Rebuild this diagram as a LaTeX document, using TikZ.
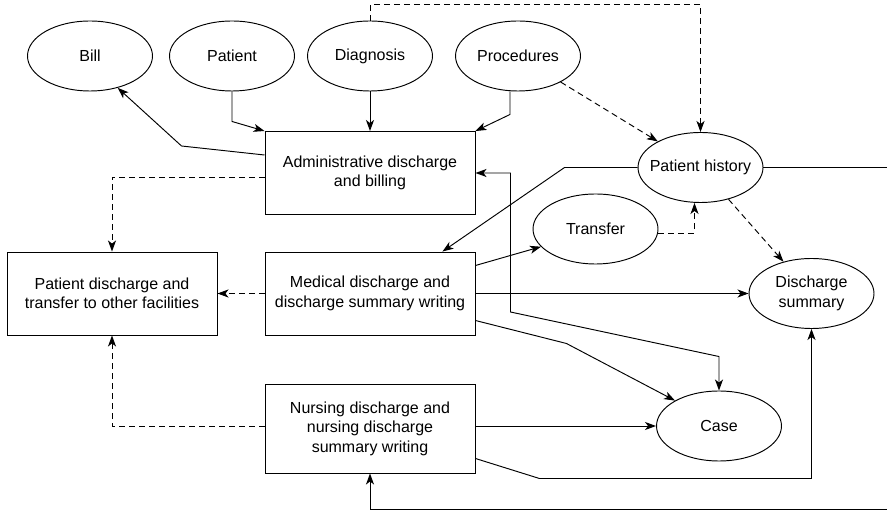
\documentclass[tikz,border=0pt]{standalone}
\usepackage{fontspec}
\setmainfont{Liberation Sans}
\usetikzlibrary{arrows.meta,positioning,shapes.geometric}

\begin{document}
\begin{tikzpicture}[>={Stealth[length=11pt,width=8pt,inset=3pt]},node distance=2cm,on grid,auto,
    line width=0.95pt,font=\fontsize{16pt}{19.5pt}\selectfont,
    entity/.style={ellipse,draw,minimum width=125pt,minimum height=70pt,inner xsep=-14pt,inner ysep=0pt,align=center},
    task/.style={rectangle,draw,minimum width=210pt,minimum height=83pt,inner sep=0pt,align=center},
    flow/.style={dash pattern=on 6pt off 4pt}]
    \useasboundingbox (0,0) rectangle (887pt,-510pt);

    \node[entity] (diag) at (370pt,-56pt) {Diagnosis};
    \node[entity] (patient) [left=138pt of diag] {Patient};
    \node[entity] (bill) [left=142pt of patient] {Bill};
    \node[entity] (proc) [right=148pt of diag] {Procedures};
    \node[task] (adm) [below=117pt of diag] {Administrative discharge\\and billing};
    \node[task] (med) [below=120.5pt of adm] {Medical discharge and\\discharge summary writing};
    \node[task,minimum height=89pt] (nurse) [below=135pt of med] {Nursing discharge and\\nursing discharge\\summary writing};
    \node[task] (leave) [left=258pt of med] {Patient discharge and\\transfer to other facilities};
    \node[entity] (hist) [above right=5.5pt and 330.5pt of adm] {Patient history};
    \node[entity] (transfer) [below left=61.5pt and 105pt of hist] {Transfer};
    \node[entity] (dsum) [right=441.5pt of med] {Discharge\\summary};
    \node[entity] (case) [above right=2.5pt and 349pt of nurse] {Case};

    % solid flows
    \draw[->] ([yshift=18pt]adm.west) -- ++(-83pt,9pt) -- (bill.-49);
    \draw[->] (patient.south) -- ++(0,-30pt) -- (adm.north west);
    \draw[->] (diag) -- (adm);
    \draw[->] ([xshift=-8pt]proc.south) -- ++(0,-23pt) -- (adm.north east);
    \draw[->] (hist.west) -- ++(-73pt,0) -- ([xshift=-33pt]med.north east);
    \draw[->] ([yshift=28pt]med.east) -- (transfer.198);
    \draw[->] (med) -- (dsum);
    \draw[->] ([yshift=-27pt]med.east) -- ++(91pt,-23pt) -- (case.150);
    \draw[<->] (adm.east) -- ++(35pt,0) -- ++(0,-139pt) -- ([yshift=34pt]case.north) -- (case.north);
    \draw[->] (nurse.east |- case.west) -- (case.west);
    \draw[->] ([yshift=-30pt]nurse.east) -- ++(64pt,-20pt) -| (dsum.south);
    \draw[->] (hist.east) -- ++(140pt,0) |- ([yshift=-36pt]nurse.south) -- (nurse.south);

    % dashed flows
    \draw[->,flow] (diag.north) -- ++(0,16pt) -| (hist.north);
    \draw[->,flow] (proc) -- (hist);
    \draw[->,flow] ([yshift=-4pt]transfer.east) -| ([xshift=-6pt]hist.south);
    \draw[->,flow] (hist) -- (dsum);
    \draw[->,flow] ([yshift=-4pt]adm.west) -| (leave.north);
    \draw[->,flow] (med) -- (leave);
    \draw[->,flow] ([yshift=2pt]nurse.west) -| (leave.south);
\end{tikzpicture}
\end{document}
